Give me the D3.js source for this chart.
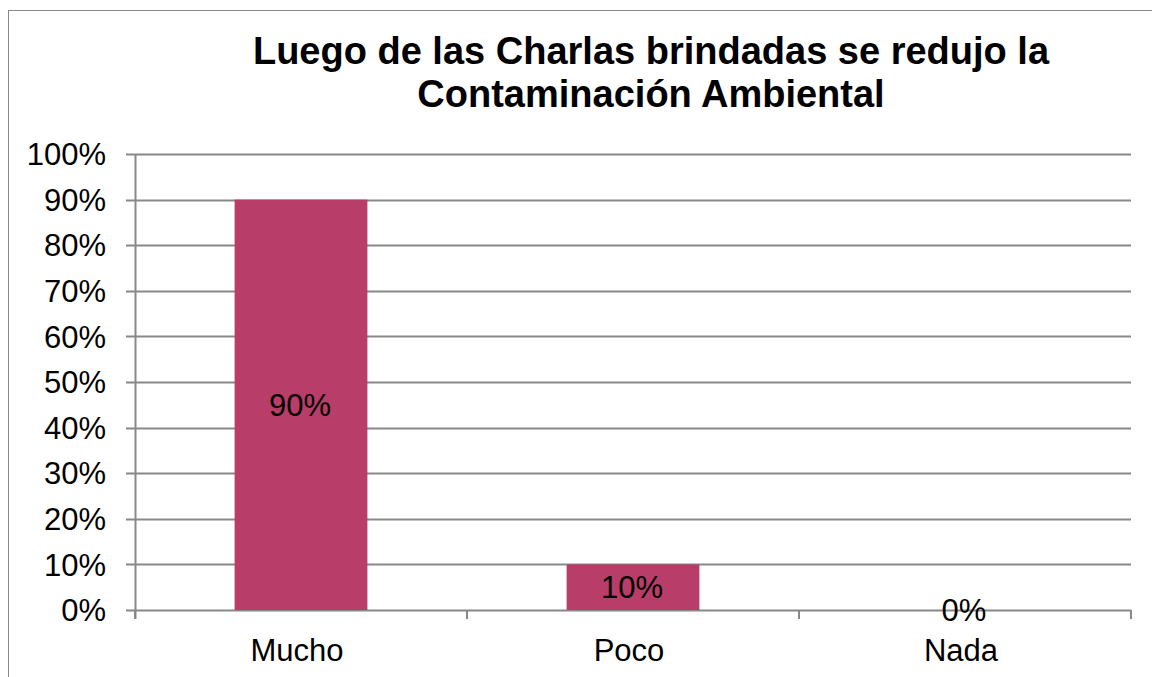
<!DOCTYPE html>
<html>
<head>
<meta charset="utf-8">
<script src="https://cdn.jsdelivr.net/npm/d3@7"></script>
<style>
  body { margin: 0; background: #fff; }
  svg { display: block; font-family: "Liberation Sans", Arial, sans-serif; }
</style>
</head>
<body>
<div id="chart"></div>
<script>
// data
var categories = ['Mucho', 'Poco', 'Nada'],
    values = [0.9, 0.1, 0],
    y_ticks = [0, 0.1, 0.2, 0.3, 0.4, 0.5, 0.6, 0.7, 0.8, 0.9, 1],
    title_lines = ['Luego de las Charlas brindadas se redujo la', 'Contaminación Ambiental'];

var W = 1152, H = 677;
var margin = {top: 154, right: 21, bottom: 67, left: 135},
    width = W - margin.left - margin.right,
    height = H - margin.top - margin.bottom;

var svg = d3.select('#chart').append('svg')
    .attr('width', W)
    .attr('height', H);

// outer frame
svg.append('rect')
    .attr('x', 8.5).attr('y', 10.5)
    .attr('width', W + 20).attr('height', H + 20)
    .attr('fill', 'none')
    .attr('stroke', '#888')
    .attr('stroke-width', 1);

// title
svg.append('text')
    .attr('x', 651).attr('y', 64)
    .attr('text-anchor', 'middle')
    .style('font-size', '38px').style('font-weight', 'bold')
    .selectAll('tspan').data(title_lines).enter().append('tspan')
    .attr('x', 651)
    .attr('dy', function(d, i) { return i ? 43 : 0; })
    .text(function(d) { return d; });

var g = svg.append('g')
    .attr('transform', 'translate(' + margin.left + ',' + margin.top + ')');

// scales
var x = d3.scaleBand().domain(categories).range([0, width]).paddingInner(0.6).paddingOuter(0.3),
    xb = d3.scaleBand().domain(categories).range([0, width]),
    y = d3.scaleLinear().domain([0, 1]).range([height, 0]);

// gridlines
g.append('g').selectAll('line').data(y_ticks).enter().append('line')
    .attr('x1', -9).attr('x2', width)
    .attr('y1', function(d) { return Math.round(y(d)) + 0.5; })
    .attr('y2', function(d) { return Math.round(y(d)) + 0.5; })
    .attr('stroke', '#888').attr('stroke-width', 2);

// bars
g.append('g').selectAll('rect').data(values).enter().append('rect')
    .attr('x', function(d, i) { return x(categories[i]); })
    .attr('y', function(d) { return y(d); })
    .attr('width', x.bandwidth())
    .attr('height', function(d) { return height - y(d); })
    .attr('fill', '#B83D68');

// y axis line
g.append('line')
    .attr('x1', 0.5).attr('x2', 0.5)
    .attr('y1', 0).attr('y2', height + 9)
    .attr('stroke', '#888').attr('stroke-width', 2);

// x category ticks
var xt = categories.map(function(c) { return xb(c); }).concat([width]);
g.append('g').selectAll('line').data(xt).enter().append('line')
    .attr('x1', function(d) { return d; }).attr('x2', function(d) { return d; })
    .attr('y1', height).attr('y2', height + 9)
    .attr('stroke', '#888').attr('stroke-width', 2);

// y tick labels
g.append('g').selectAll('text').data(y_ticks).enter().append('text')
    .attr('x', -29)
    .attr('y', function(d) { return y(d); })
    .attr('dy', '0.36em')
    .attr('text-anchor', 'end')
    .style('font-size', '31px')
    .text(d3.format('.0%'));

// x labels
g.append('g').selectAll('text').data(categories).enter().append('text')
    .attr('x', function(d) { return xb(d) + xb.bandwidth() / 2 - 4; })
    .attr('y', height + 51)
    .attr('text-anchor', 'middle')
    .style('font-size', '31px')
    .text(function(d) { return d; });

// data labels
g.append('g').selectAll('text').data(values).enter().append('text')
    .attr('x', function(d, i) { return x(categories[i]) + x.bandwidth() / 2 - 1; })
    .attr('y', function(d) { return (y(d) + height) / 2; })
    .attr('dy', '0.36em')
    .attr('text-anchor', 'middle')
    .style('font-size', '31px')
    .text(d3.format('.0%'));
</script>
</body>
</html>
